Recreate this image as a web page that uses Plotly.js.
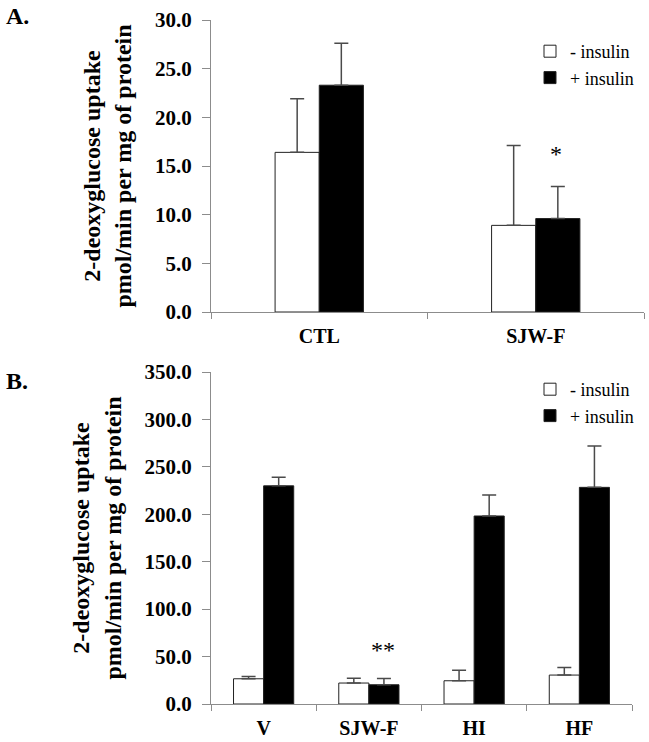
<!DOCTYPE html>
<html>
<head>
    <script src="https://cdn.plot.ly/plotly-3.0.1.min.js"></script>
    <style>
        body { margin: 0; background: #fff; }
        #chart { width: 649px; height: 742px; }
    </style>
</head>
<body>
    <div id="chart"></div>
    <script>
        // panel A
        const groupsA = ["CTL", "SJW-F"];
        const minusInsA = [16.4, 8.9];
        const minusInsErrA = [5.5, 8.2];
        const plusInsA = [23.3, 9.6];
        const plusInsErrA = [4.3, 3.3];
        const starsA = ["", "*"];

        // panel B
        const groupsB = ["V", "SJW-F", "HI", "HF"];
        const minusInsB = [26.6, 22.1, 24.5, 30.5];
        const minusInsErrB = [2.5, 5.0, 11.0, 8.0];
        const plusInsB = [230.0, 20.3, 198.2, 228.4];
        const plusInsErrB = [9.0, 6.5, 22.0, 43.5];
        const starsB = ["", "**", "", ""];

        const W = 649, H = 742;
        const px = x => x / W;
        const py = y => 1 - y / H;

        const serif = "Liberation Serif";
        const errColor = "#4a4a4a";
        const axisColor = "#8c8c8c";

        function zeros(arr) { return arr.map(() => 0); }

        function barTrace(groups, vals, errs, xa, ya, fill, name, legend, offset, width) {
            return {
                type: "bar",
                x: groups,
                y: vals,
                name: name,
                xaxis: xa,
                yaxis: ya,
                legend: legend,
                offset: offset,
                width: width,
                marker: { color: fill, line: { color: "#222", width: 1 } },
                error_y: {
                    type: "data", symmetric: false,
                    array: errs, arrayminus: zeros(errs),
                    color: errColor, thickness: 1.5, width: 7
                },
                hoverinfo: "x+y"
            };
        }

        const wA = 0.204, wB = 0.286;
        const traces = [
            barTrace(groupsA, minusInsA, minusInsErrA, "x", "y", "#fff", "- insulin", "legend", -wA, wA),
            barTrace(groupsA, plusInsA, plusInsErrA, "x", "y", "#000", "+ insulin", "legend", 0, wA),
            barTrace(groupsB, minusInsB, minusInsErrB, "x2", "y2", "#fff", "- insulin", "legend2", -wB, wB),
            barTrace(groupsB, plusInsB, plusInsErrB, "x2", "y2", "#000", "+ insulin", "legend2", 0, wB)
        ];

        function xAxis(domain, anchor) {
            return {
                domain: domain, anchor: anchor, type: "category",
                showline: true, linecolor: axisColor, linewidth: 1,
                ticks: "outside", tickson: "boundaries", ticklen: 6, tickcolor: axisColor,
                ticklabelstandoff: 6,
                showgrid: false, zeroline: false, fixedrange: true,
                tickfont: { family: serif, size: 20, color: "#000", weight: "bold" }
            };
        }

        function yAxis(domain, anchor, range, dtick) {
            return {
                domain: domain, anchor: anchor, range: range, dtick: dtick,
                tickformat: ".1f",
                showline: true, linecolor: axisColor, linewidth: 1,
                ticks: "outside", ticklen: 8, tickcolor: axisColor,
                ticklabelstandoff: 6,
                showgrid: false, zeroline: false, fixedrange: true,
                tickfont: { family: serif, size: 21, color: "#000", weight: "bold" },
                title: {
                    text: "2-deoxyglucose uptake<br>pmol/min per mg of protein",
                    font: { family: serif, size: 24, color: "#000", weight: "bold" },
                    standoff: 16
                }
            };
        }

        const annotations = [
            { text: "A.", x: px(4), y: py(1), xanchor: "left", yanchor: "top" },
            { text: "B.", x: px(4), y: py(366), xanchor: "left", yanchor: "top" }
        ].map(a => Object.assign(a, {
            xref: "paper", yref: "paper", showarrow: false,
            font: { family: serif, size: 24, color: "#000", weight: "bold" }
        }));

        starsA.forEach((s, i) => {
            if (!s) return;
            annotations.push({
                text: s, xref: "x", yref: "y", x: groupsA[i], xshift: 20,
                y: plusInsA[i] + plusInsErrA[i], yshift: 32,
                showarrow: false, font: { family: serif, size: 24, color: "#000" }
            });
        });
        starsB.forEach((s, i) => {
            if (!s) return;
            annotations.push({
                text: s, xref: "x2", yref: "y2", x: groupsB[i], xshift: 14,
                y: plusInsB[i] + plusInsErrB[i], yshift: 29,
                showarrow: false, font: { family: serif, size: 24, color: "#000" }
            });
        });

        const legendStyle = {
            xref: "paper", yref: "paper", xanchor: "left", yanchor: "top",
            bgcolor: "rgba(0,0,0,0)", itemwidth: 30, itemclick: false, itemdoubleclick: false,
            font: { family: serif, size: 18, color: "#000" }
        };

        const layout = {
            width: W, height: H,
            margin: { l: 0, r: 0, t: 0, b: 0 },
            paper_bgcolor: "#fff", plot_bgcolor: "#fff",
            barmode: "overlay",
            showlegend: true,
            xaxis: xAxis([px(211), px(644)], "y"),
            yaxis: yAxis([py(312), py(20)], "x", [0, 30], 5),
            xaxis2: xAxis([px(211), px(632)], "y2"),
            yaxis2: yAxis([py(704), py(372)], "x2", [0, 350], 50),
            legend: Object.assign({ x: px(530), y: py(33) }, legendStyle),
            legend2: Object.assign({ x: px(530), y: py(371) }, legendStyle),
            annotations: annotations
        };

        Plotly.newPlot("chart", traces, layout, { displayModeBar: false });
    </script>
</body>
</html>
